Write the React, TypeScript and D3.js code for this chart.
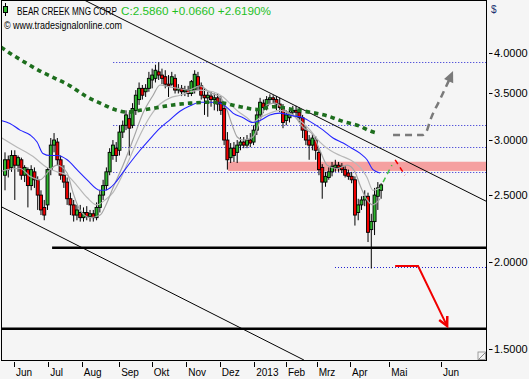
import React, { useLayoutEffect, useRef, useState } from 'react';
import * as d3 from 'd3';

const W = 529;
const H = 379;

// Candles (2 trading days per bar), prices in $
const opens = [2.67,2.81,2.74,2.85,2.76,2.81,2.67,2.72,2.58,2.70,2.63,2.50,2.40,2.42,2.72,2.95,2.98,2.81,2.67,2.61,
  2.47,2.42,2.34,2.36,2.32,2.36,2.33,2.35,2.32,2.40,2.50,2.58,2.70,2.85,2.92,2.90,3.08,3.15,3.22,3.15,
  3.31,3.43,3.56,3.52,3.56,3.66,3.68,3.76,3.72,3.70,3.61,3.61,3.68,3.54,3.56,3.52,3.54,3.50,3.54,3.70,
  3.59,3.48,3.45,3.47,3.43,3.45,3.40,3.33,3.00,2.83,2.92,2.88,2.95,2.98,2.95,3.00,2.98,3.10,3.26,3.39,
  3.36,3.43,3.45,3.43,3.38,3.34,3.20,3.23,3.29,3.31,3.29,3.23,3.10,3.00,2.95,3.00,2.88,2.74,2.61,2.65,
  2.70,2.74,2.76,2.75,2.72,2.69,2.66,2.63,2.36,2.42,2.46,2.49,2.23,2.29,2.49,2.54];
const highs = [2.88,2.85,2.90,2.90,2.85,2.83,2.76,2.74,2.76,2.74,2.66,2.54,2.46,2.74,3.02,3.07,3.02,2.85,2.76,2.65,
  2.52,2.46,2.42,2.42,2.40,2.41,2.38,2.38,2.44,2.54,2.63,2.74,2.92,3.00,2.98,3.15,3.20,3.31,3.29,3.39,
  3.54,3.63,3.60,3.61,3.76,3.80,3.85,3.88,3.80,3.78,3.72,3.76,3.73,3.61,3.60,3.59,3.59,3.66,3.78,3.76,
  3.63,3.56,3.52,3.52,3.50,3.50,3.47,3.38,3.08,2.97,2.98,3.00,3.03,3.03,3.05,3.07,3.15,3.31,3.45,3.43,
  3.47,3.49,3.48,3.47,3.45,3.38,3.31,3.34,3.36,3.36,3.34,3.26,3.14,3.05,3.06,3.04,2.92,2.77,2.70,2.74,
  2.79,2.81,2.79,2.78,2.75,2.72,2.70,2.66,2.47,2.49,2.54,2.52,2.35,2.56,2.61,2.60];
const lows = [2.54,2.65,2.70,2.46,2.70,2.63,2.61,2.40,2.54,2.56,2.38,2.34,2.30,2.38,2.67,2.88,2.76,2.63,2.56,2.42,
  2.34,2.29,2.30,2.29,2.29,2.30,2.29,2.29,2.30,2.36,2.46,2.54,2.67,2.81,2.79,2.85,3.02,3.10,2.85,3.12,
  3.26,3.37,3.43,3.46,3.52,3.56,3.63,3.66,3.61,3.56,3.46,3.59,3.50,3.50,3.47,3.47,3.46,3.47,3.50,3.54,
  3.43,3.26,3.24,3.35,3.31,3.30,3.26,2.95,2.72,2.78,2.79,2.78,2.90,2.92,2.92,2.93,2.95,3.05,3.22,3.28,
  3.31,3.38,3.38,3.31,3.29,3.12,3.15,3.18,3.25,3.23,3.18,3.02,2.95,2.81,2.90,2.81,2.67,2.47,2.57,2.63,
  2.66,2.70,2.70,2.69,2.65,2.63,2.60,2.26,2.30,2.38,2.41,2.14,1.96,2.19,2.38,2.47];
const closes = [2.81,2.72,2.85,2.76,2.83,2.67,2.74,2.58,2.72,2.63,2.50,2.38,2.34,2.72,2.95,3.00,2.81,2.67,2.61,2.47,
  2.42,2.34,2.38,2.32,2.36,2.33,2.35,2.32,2.40,2.50,2.58,2.70,2.88,2.95,2.85,3.08,3.15,3.26,3.12,3.33,
  3.48,3.56,3.48,3.56,3.68,3.72,3.78,3.72,3.68,3.61,3.59,3.70,3.54,3.56,3.52,3.54,3.50,3.64,3.73,3.59,
  3.48,3.45,3.48,3.43,3.45,3.38,3.31,3.00,2.81,2.92,2.85,2.95,2.98,2.95,3.00,2.97,3.10,3.26,3.40,3.34,
  3.43,3.45,3.43,3.38,3.34,3.18,3.26,3.29,3.31,3.29,3.23,3.10,3.00,2.95,3.02,2.90,2.72,2.61,2.66,2.70,
  2.75,2.76,2.74,2.72,2.67,2.66,2.63,2.34,2.42,2.46,2.49,2.21,2.29,2.50,2.56,2.586];

// Moving averages as [bar index, price]
const blueMA = [[-1.2,3.20],[1.5,3.17],[4.6,3.10],[7.7,3.05],[9.8,2.98],[11.6,2.87],[13.8,2.85],[15.9,2.85],[19,2.81],[22,2.72],
  [25.1,2.63],[29.1,2.54],[30.6,2.54],[32.1,2.56],[33.6,2.60],[35.2,2.66],[36.7,2.72],[38.2,2.78],[41.3,2.90],[44.3,3.01],
  [47.4,3.12],[50.5,3.21],[53.5,3.30],[56.6,3.36],[59.6,3.40],[62.7,3.40],[65.8,3.39],[67.9,3.34],[69.7,3.28],[72.8,3.23],
  [75.8,3.18],[78,3.20],[81,3.26],[84.1,3.28],[88.1,3.25],[91.1,3.23],[94.2,3.17],[97.3,3.10],[100.3,3.02],[103.4,2.97],
  [105.5,2.93],[108.6,2.87],[110.7,2.81],[112.5,2.72],[114.7,2.69]];
const grayFast = [[-1.5,2.70],[0.6,2.72],[4.6,2.73],[7.7,2.66],[10.7,2.63],[13.8,2.72],[15.9,2.76],[19,2.69],[20.8,2.52],[22.9,2.38],
  [26,2.32],[29.1,2.34],[31.2,2.44],[33,2.56],[36.1,2.76],[39.1,3.00],[42.2,3.28],[45.3,3.48],[47.4,3.60],[49.9,3.58],
  [52.9,3.56],[56,3.54],[59.6,3.59],[62.7,3.51],[65.8,3.46],[67.9,3.31],[69.7,3.13],[71,3.03],[72.8,3.00],[75.8,3.03],
  [78,3.20],[80.1,3.37],[82.6,3.39],[85.6,3.31],[88.7,3.24],[91.1,3.13],[94.2,3.05],[96.3,2.90],[98.5,2.76],[101.5,2.73],
  [104.6,2.76],[107,2.70],[108.6,2.58],[110.7,2.46],[112.5,2.42],[114.7,2.47]];
const graySlow = [[-1.5,3.03],[3.7,2.93],[8.6,2.84],[12.8,2.74],[15.9,2.70],[19,2.67],[22,2.58],[25.1,2.48],[28.1,2.42],[30.6,2.46],
  [33,2.52],[35.2,2.63],[38.2,2.83],[41.3,3.05],[44.3,3.24],[47.4,3.38],[50.5,3.45],[53.5,3.48],[56.6,3.52],[59.6,3.54],
  [63.6,3.52],[66.7,3.46],[69.7,3.35],[71.9,3.28],[74,3.23],[75.8,3.18],[78,3.23],[81,3.28],[84.1,3.31],[87.2,3.27],
  [90.2,3.20],[93.3,3.10],[96.3,2.98],[99.4,2.90],[102.5,2.85],[105.5,2.81],[108.6,2.74],[110.7,2.65],[112.5,2.54],[114.7,2.56]];
const greenMA = [[-1.2,4.08],[1.5,4.00],[6.1,3.88],[10.7,3.77],[15.3,3.68],[19.9,3.59],[25.1,3.46],[29.1,3.39],[34.3,3.31],[37.3,3.29],
  [41.3,3.31],[46.5,3.34],[51.4,3.37],[56.6,3.39],[62.7,3.40],[66.7,3.39],[71.9,3.35],[77.1,3.32],[82,3.35],[88.1,3.32],
  [93.3,3.29],[98.5,3.25],[103.4,3.19],[108.6,3.14],[111,3.10],[113.8,3.07]];

// Drawn levels and annotations
const dottedPrices = [3.89, 3.15, 2.93, 2.70, 1.97];
const dottedStart = [33.1, 33.1, 33.1, 33.1, 100.9];
const supportPrices = [2.10, 1.606];
const supportStart = [14.4, -3];
const bandPrices = [2.708, 2.792];
const bandStart = 68.2;
const upperChannel = [[24.2, 4.77], [147.1, 2.45]];
const lowerChannel = [[-1.5, 2.41], [91.4, 1.448]];
const grayArrow = [[118.65,3.05],[127.8,3.05],[129.05,3.10],[130,3.20],[133,3.43],[135.8,3.66]];
const grayArrowTip = [137, 3.77];
const redArrow = [[119.3,1.977],[126.3,1.977],[135.2,1.62]];
const greenProj = [[115.6,2.61],[118.3,2.76]];
const redProj = [[119.3,2.81],[122.3,2.67]];

const monthLabels = ['Jun','Jul','Aug','Sep','Okt','Nov','Dez','2013','Feb','Mrz','Apr','Mai','Jun'];
const monthPos = [2.75,13.2,23.5,34.9,44.9,55.4,65.7,76.2,85.9,95.3,105.5,117.5,133.3];
const priceTicks = [1.5, 2.0, 2.5, 3.0, 3.5, 4.0];
const yDomain = [1.448, 4.77];
const legendTitle = 'BEAR CREEK MNG CORP';
const legendQuote = ['C:2.5860', '+0.0660', '+2.6190%'];
const legendCopy = '\u00a9 www.tradesignalonline.com';

const PL = 1.5, PR = 486.5, PT = 0.5, PB = 360.5;
const GREEN = '#2fb52f';
const RED = '#f00000';

// Text squeezed/stretched horizontally to a target width (keeps bbox honest)
function FitText(props: { x: number; y: number; width: number; size: number; fill: string; children: string }) {
  const ref = useRef<SVGTextElement>(null);
  const [sx, setSx] = useState(1);
  useLayoutEffect(() => {
    if (ref.current) {
      const w = ref.current.getComputedTextLength();
      if (w > 0) setSx(props.width / w);
    }
  }, [props.width, props.children]);
  return (
    <g transform={`translate(${props.x},${props.y}) scale(${sx},1)`}>
      <text ref={ref} x={0} y={0} fontSize={props.size} fill={props.fill}>{props.children}</text>
    </g>
  );
}

export default function App() {
  const x = d3.scaleLinear().domain([0, closes.length - 1]).range([5, 381.1]);
  const y = d3.scaleLog().domain(yDomain).range([360, 0]);
  const lin = d3.line<number[]>().x(d => x(d[0])).y(d => y(d[1]));
  const smooth = d3.line<number[]>().x(d => x(d[0])).y(d => y(d[1])).curve(d3.curveMonotoneX);

  const head = (tip: number[], from: number[], len: number, hw: number) => {
    const tx = x(tip[0]), ty = y(tip[1]);
    const fx = x(from[0]), fy = y(from[1]);
    const dx = tx - fx, dy = ty - fy;
    const L = Math.hypot(dx, dy);
    const ux = dx / L, uy = dy / L;
    const bx = tx - ux * len, by = ty - uy * len;
    return [[tx, ty], [bx - uy * hw, by + ux * hw], [bx + uy * hw, by - ux * hw]];
  };
  const gHead = head(grayArrowTip, grayArrow[grayArrow.length - 1], 11, 5);
  const rHead = head(redArrow[2], redArrow[1], 9, 4.5);

  return (
    <svg width={W} height={H} style={{ position: 'absolute', left: 0, top: 0, display: 'block' }}
      fontFamily="'Liberation Sans', Arial, sans-serif">
      <defs>
        <clipPath id="plot"><rect x={PL} y={PT} width={PR - PL} height={PB - PT} /></clipPath>
      </defs>
      <rect x={0} y={0} width={W} height={H} fill="#f5f5f5" />
      <g clipPath="url(#plot)">
        {dottedPrices.map((p, i) => (
          <line key={'d' + i} x1={x(dottedStart[i])} x2={PR} y1={Math.round(y(p)) + 0.5} y2={Math.round(y(p)) + 0.5}
            stroke="#2020d0" strokeWidth={1} strokeDasharray="1,2" />
        ))}
        <rect x={x(bandStart)} y={y(bandPrices[1])} width={PR - x(bandStart)} height={y(bandPrices[0]) - y(bandPrices[1])}
          fill="#f5a0a0" />
        <path d={lin(upperChannel) || ''} stroke="#000" strokeWidth={1} fill="none" />
        <path d={lin(lowerChannel) || ''} stroke="#000" strokeWidth={1} fill="none" />
        {supportPrices.map((p, i) => (
          <line key={'s' + i} x1={x(supportStart[i])} x2={PR} y1={y(p)} y2={y(p)} stroke="#000" strokeWidth={2.5} />
        ))}
        {closes.map((c, i) => {
          const o = opens[i];
          const cx = x(i);
          const top = y(Math.max(o, c));
          const bot = y(Math.min(o, c));
          return (
            <g key={'c' + i}>
              <line x1={cx} x2={cx} y1={y(highs[i])} y2={y(lows[i])} stroke="#000" strokeWidth={1} />
              <rect x={cx - 1.5} y={top} width={3} height={Math.max(1, bot - top)}
                fill={c >= o ? GREEN : RED} stroke="#000" strokeWidth={0.9} />
            </g>
          );
        })}
        <path d={smooth(graySlow) || ''} stroke="#b8b8b8" strokeWidth={1.2} fill="none" />
        <path d={smooth(grayFast) || ''} stroke="#a4a4a4" strokeWidth={1.2} fill="none" />
        <path d={smooth(blueMA) || ''} stroke="#2424ff" strokeWidth={1.1} fill="none" />
        <path d={smooth(greenMA) || ''} stroke="#1d6e1d" strokeWidth={3.6} strokeDasharray="4.5,4" fill="none" />
        <path d={lin(greenProj) || ''} stroke="#44c044" strokeWidth={1.5} strokeDasharray="5,4" fill="none" />
        <path d={lin(redProj) || ''} stroke={RED} strokeWidth={1.5} strokeDasharray="5,4" fill="none" />
        <path d={smooth(grayArrow) || ''} stroke="#7a7a7a" strokeWidth={2.5} strokeDasharray="7,5" fill="none" />
        <polygon points={gHead.map(p => p.join(',')).join(' ')} fill="#7a7a7a" />
        <path d={lin(redArrow) || ''} stroke={RED} strokeWidth={2} fill="none" />
        <polyline points={[rHead[1], rHead[0], rHead[2]].map(p => p.join(',')).join(' ')} stroke={RED} strokeWidth={2.5} fill="none" />
        <path d={`M${PR - 8},${PB - 1}L${PR - 1},${PB - 8}`} stroke="#888" strokeWidth={1} />
        <rect x={PR - 8.5} y={PB - 8.5} width={7.5} height={7.5} fill="none" stroke="#888" strokeWidth={0.8} />
      </g>
      <rect x={PL} y={PT} width={PR - PL} height={PB - PT} fill="none" stroke="#000" strokeWidth={1} />

      {/* legend */}
      <line x1={5.5} x2={5.5} y1={3} y2={16} stroke="#000" strokeWidth={1} />
      <rect x={3.5} y={6.5} width={4} height={6} fill={GREEN} stroke="#000" strokeWidth={1} />
      <FitText x={17} y={15} width={100} size={10.5} fill="#000">{legendTitle}</FitText>
      <FitText x={121} y={15} width={150} size={10.5} fill="#1fc01f">{legendQuote.join(' ')}</FitText>
      <FitText x={4} y={29} width={118} size={10.5} fill="#000">{legendCopy}</FitText>

      {/* price axis */}
      <text x={491} y={13} fontSize={10} fill="#203070">$</text>
      {priceTicks.map(p => (
        <g key={'p' + p}>
          <line x1={489} x2={492.5} y1={Math.round(y(p)) + 0.5} y2={Math.round(y(p)) + 0.5} stroke="#000" strokeWidth={1} />
          <text x={494} y={y(p)} dy="0.36em" fontSize={11} fill="#000">{p.toFixed(4)}</text>
        </g>
      ))}

      {/* time axis */}
      {monthLabels.map((m, i) => (
        <g key={'m' + i}>
          <line x1={Math.round(x(monthPos[i])) + 0.5} x2={Math.round(x(monthPos[i])) + 0.5} y1={362} y2={367} stroke="#000" strokeWidth={1} />
          <text x={x(monthPos[i]) + 2} y={376} fontSize={10} fill="#000">{m}</text>
        </g>
      ))}
    </svg>
  );
}
